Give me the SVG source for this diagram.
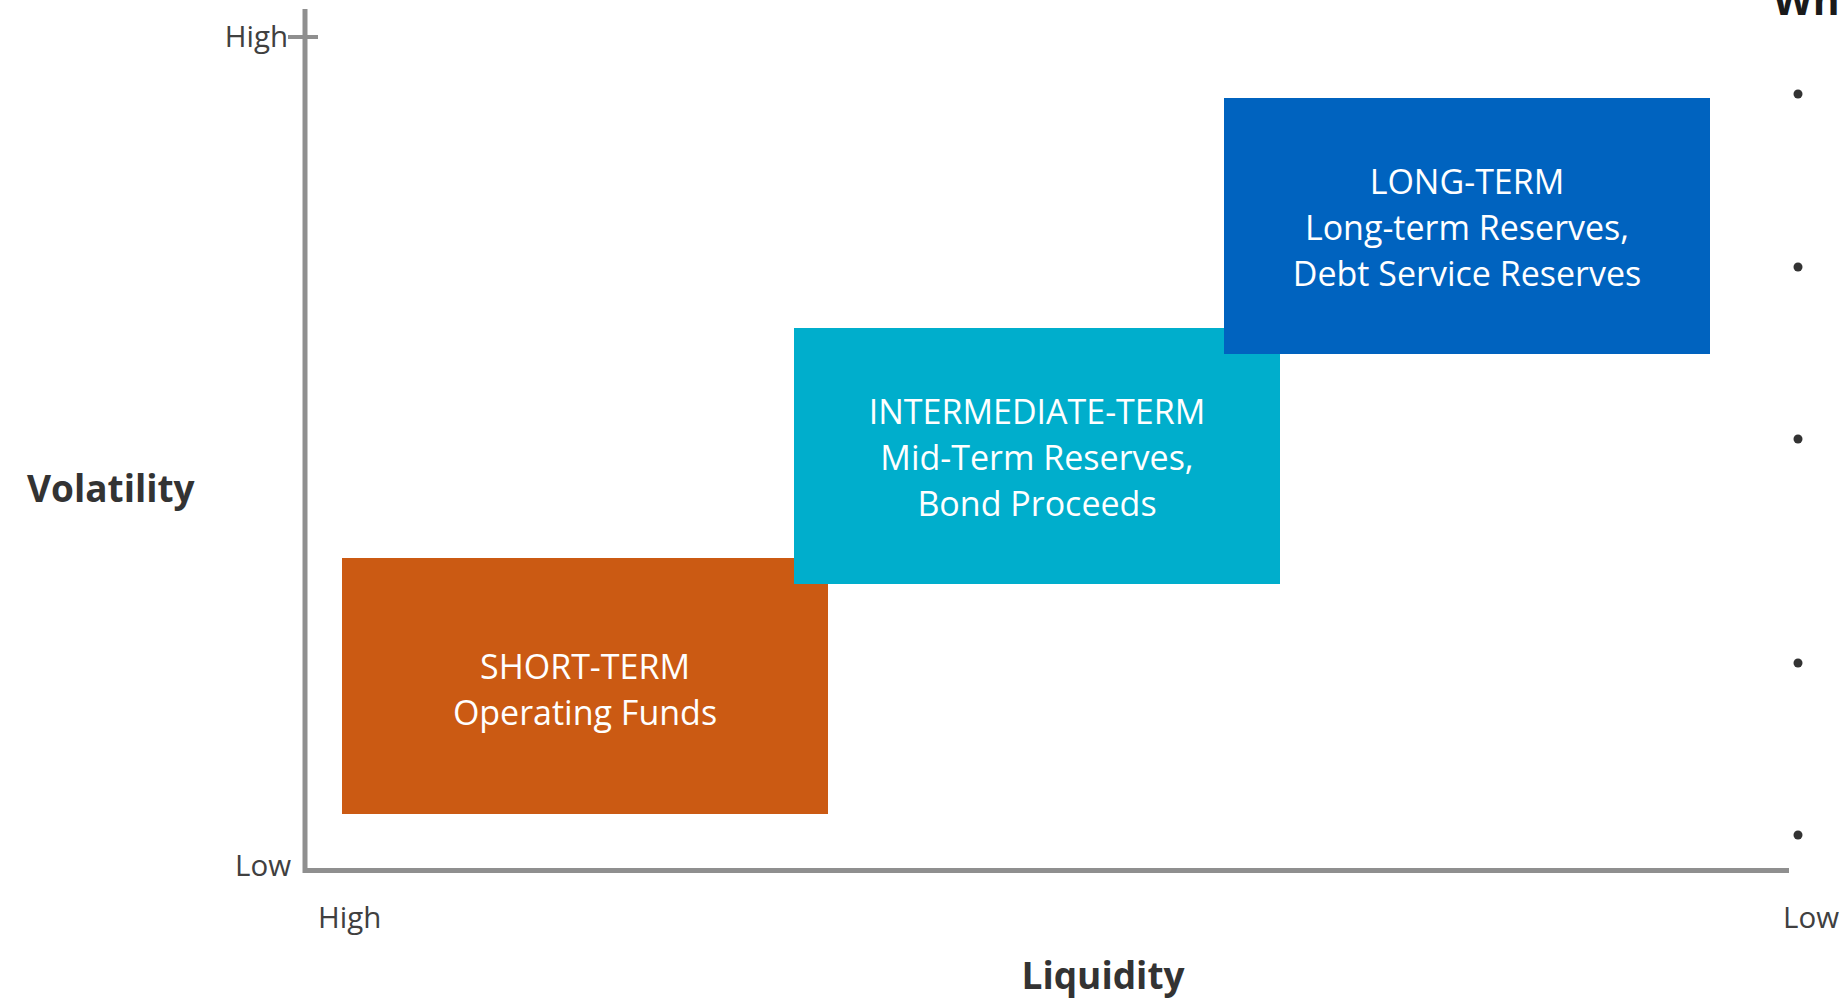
<svg xmlns="http://www.w3.org/2000/svg" width="1843" height="1001" viewBox="0 0 1843 1001">
  <style>
    .axis { fill: none; stroke: #8f8f8f; stroke-width: 5; }
    .tick { stroke: #8f8f8f; stroke-width: 4; }
    .lbl { font-family: "Open Sans", "Noto Sans", sans-serif; font-size: 29.5px; fill: #404040; }
    .title { font-family: "Open Sans", "Noto Sans", sans-serif; font-size: 37px; font-weight: bold; fill: #333333; }
    .box-text { font-family: "Open Sans", "Noto Sans", sans-serif; font-size: 34px; fill: #ffffff; text-anchor: middle; }
    .dot { fill: #333333; }
  </style>
  <rect width="1843" height="1001" fill="#ffffff"/>

  <!-- axes -->
  <g id="axes">
    <polyline class="axis" points="305,9 305,870.5 1789,870.5"/>
    <line class="tick" x1="288" y1="37" x2="318" y2="37"/>
    <text class="lbl" x="288" y="47" text-anchor="end">High</text>
    <text class="lbl" x="291" y="876" text-anchor="end">Low</text>
    <text class="lbl" x="318" y="928">High</text>
    <text class="lbl" x="1783" y="928">Low</text>
    <text class="title" x="27" y="502">Volatility</text>
    <text class="title" x="1103" y="989" text-anchor="middle">Liquidity</text>
  </g>

  <!-- investment horizon boxes -->
  <g id="short-term">
    <rect x="342" y="558" width="486" height="256" fill="#cb5a13"/>
    <text class="box-text" x="585" y="679">SHORT-TERM</text>
    <text class="box-text" x="585" y="725">Operating Funds</text>
  </g>
  <g id="intermediate-term">
    <rect x="794" y="328" width="486" height="256" fill="#00aecc"/>
    <text class="box-text" x="1037" y="424">INTERMEDIATE-TERM</text>
    <text class="box-text" x="1037" y="470">Mid-Term Reserves,</text>
    <text class="box-text" x="1037" y="516">Bond Proceeds</text>
  </g>
  <g id="long-term">
    <rect x="1224" y="98" width="486" height="256" fill="#0063bf"/>
    <text class="box-text" x="1467" y="194">LONG-TERM</text>
    <text class="box-text" x="1467" y="240">Long-term Reserves,</text>
    <text class="box-text" x="1467" y="286">Debt Service Reserves</text>
  </g>

  <!-- side list -->
  <g id="side-list">
    <text x="1773" y="15" font-family="'Open Sans', 'Noto Sans', sans-serif" font-size="41" font-weight="bold" fill="#1a1a1a">Wh</text>
    <circle class="dot" cx="1798" cy="94" r="4.5"/>
    <circle class="dot" cx="1798" cy="267" r="4.5"/>
    <circle class="dot" cx="1798" cy="439" r="4.5"/>
    <circle class="dot" cx="1798" cy="663" r="4.5"/>
    <circle class="dot" cx="1798" cy="835" r="4.5"/>
  </g>
</svg>
